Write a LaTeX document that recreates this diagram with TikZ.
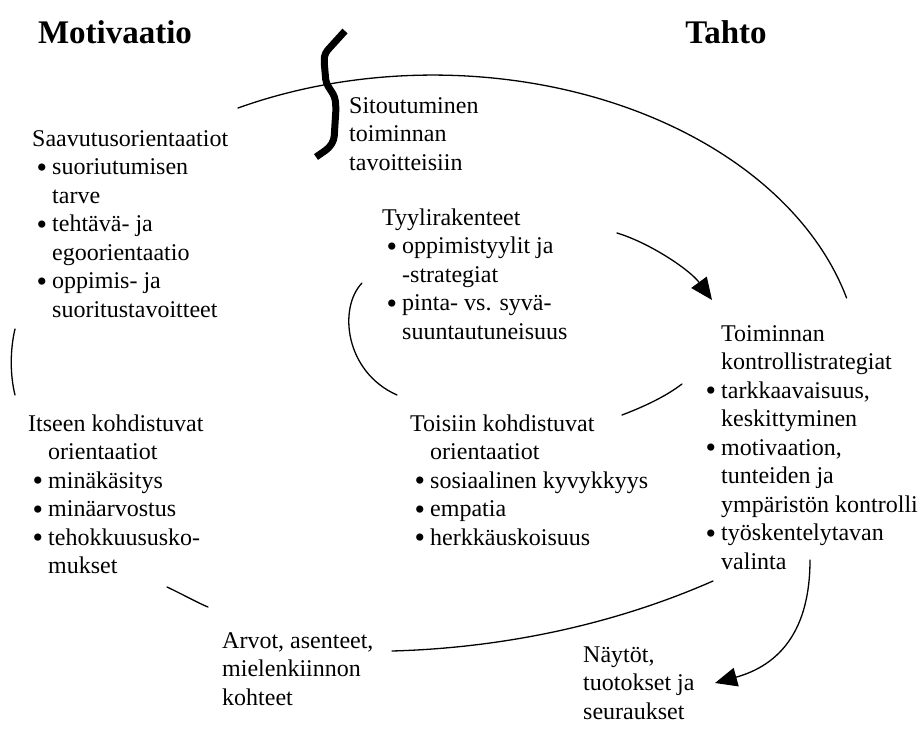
\documentclass[tikz,border=0pt]{standalone}
\usepackage{fontspec}
\setmainfont{Liberation Serif}
\usetikzlibrary{arrows.meta}
% bullet item with a hanging indent, and a continuation line at the same indent
\newcommand\bigdot{\smash{\raisebox{-2.5pt}{\fontsize{30}{30}\selectfont•}}}
\newcommand\bitem[1]{\makebox[20pt][l]{\hspace{4.5pt}\bigdot}#1}
\newcommand\bcont[1]{\makebox[20pt]{}#1}
\begin{document}
\begin{tikzpicture}[x=1pt,y=-1pt,
  curve/.style={line width=1.3pt, line cap=round},
  flow/.style={curve, -{Triangle[length=22pt,width=19pt]}},
  block/.style={anchor=north west, inner sep=0pt, align=left,
                font=\fontsize{24}{28.5}\selectfont},
  heading/.style={anchor=base, inner sep=0pt,
                  font=\fontsize{33}{38}\selectfont\bfseries}]
\useasboundingbox (0,0) rectangle (918,744);

% column headings
\node[heading] (motivaatio) at (115,43) {Motivaatio};
\node[heading] (tahto) at (726,43) {Tahto};

% text blocks
\node[block] (saavutus) at (32,126) {\strut Saavutusorientaatiot\\
  \bitem{suoriutumisen}\\ \bcont{tarve}\\
  \bitem{tehtävä- ja}\\ \bcont{egoorientaatio}\\
  \bitem{oppimis- ja}\\ \bcont{suoritustavoitteet}};
\node[block] (sitoutuminen) at (349,93) {\strut Sitoutuminen\\ toiminnan\\ tavoitteisiin};
\node[block] (tyyli) at (382,205) {\strut Tyylirakenteet\\
  \bitem{oppimistyylit ja}\\ \bcont{-strategiat}\\
  \bitem{pinta- vs. syvä-}\\ \bcont{suuntautuneisuus}};
\node[block] (kontrolli) at (701,321) {\strut\bcont{Toiminnan}\\ \bcont{kontrollistrategiat}\\
  \bitem{tarkkaavaisuus,}\\ \bcont{keskittyminen}\\
  \bitem{motivaation,}\\ \bcont{tunteiden ja}\\ \bcont{ympäristön kontrolli}\\
  \bitem{työskentelytavan}\\ \bcont{valinta}};
\node[block] (itseen) at (28,411) {\strut Itseen kohdistuvat\\ \bcont{orientaatiot}\\
  \bitem{minäkäsitys}\\ \bitem{minäarvostus}\\
  \bitem{tehokkuususko-}\\ \bcont{mukset}};
\node[block] (toisiin) at (410,411) {\strut Toisiin kohdistuvat\\ \bcont{orientaatiot}\\
  \bitem{sosiaalinen kyvykkyys}\\ \bitem{empatia}\\ \bitem{herkkäuskoisuus}};
\node[block] (arvot) at (222,628) {\strut Arvot, asenteet,\\ mielenkiinnon\\ kohteet};
\node[block] (naytot) at (583,642) {\strut Näytöt,\\ tuotokset ja\\ seuraukset};

% end points of the spiral pieces
\coordinate (outerA) at (238,108);
\coordinate (leftA) at (15,329);   \coordinate (leftB) at (15,395);
\coordinate (lowA) at (167,587);   \coordinate (lowB) at (208,607);
\coordinate (botA) at (392,651);   \coordinate (botB) at (713,581);
\coordinate (innA) at (362,283);   \coordinate (innB) at (397,395);
\coordinate (midA) at (622,415);   \coordinate (midB) at (682,384);
\coordinate (arrA) at (617,233);   \coordinate (arrB) at (712,300);
\coordinate (outA) at (810,560);   \coordinate (outB) at (715,683);

% outer spiral
\draw[curve] (outerA) arc[start angle=-117.1, end angle=-14.9, x radius=428, y radius=300];
\draw[curve] (leftA) .. controls (10,350) and (10,375) .. (leftB);
\draw[curve] (lowA) .. controls (182,594) and (198,603) .. (lowB);
\draw[curve] (botA) .. controls (502,648) and (613,625) .. (botB);

% inner spiral
\draw[curve] (innA) .. controls (338,308) and (345,372) .. (innB);
\draw[curve] (midA) .. controls (643,407) and (665,397) .. (midB);
\draw[flow] (arrA) .. controls (650,243) and (690,270) .. (arrB);

% outcome arrow
\draw[flow] (outA) .. controls (810,630) and (780,665) .. (outB);

% boundary between motivation and volition
\draw[line width=7pt, rounded corners=4pt] (345,31) -- (325,53) -- (324,60) -- (326,83)
  -- (335,97) -- (336,108) -- (334,140) -- (329,148) -- (316,157);
\end{tikzpicture}
\end{document}
